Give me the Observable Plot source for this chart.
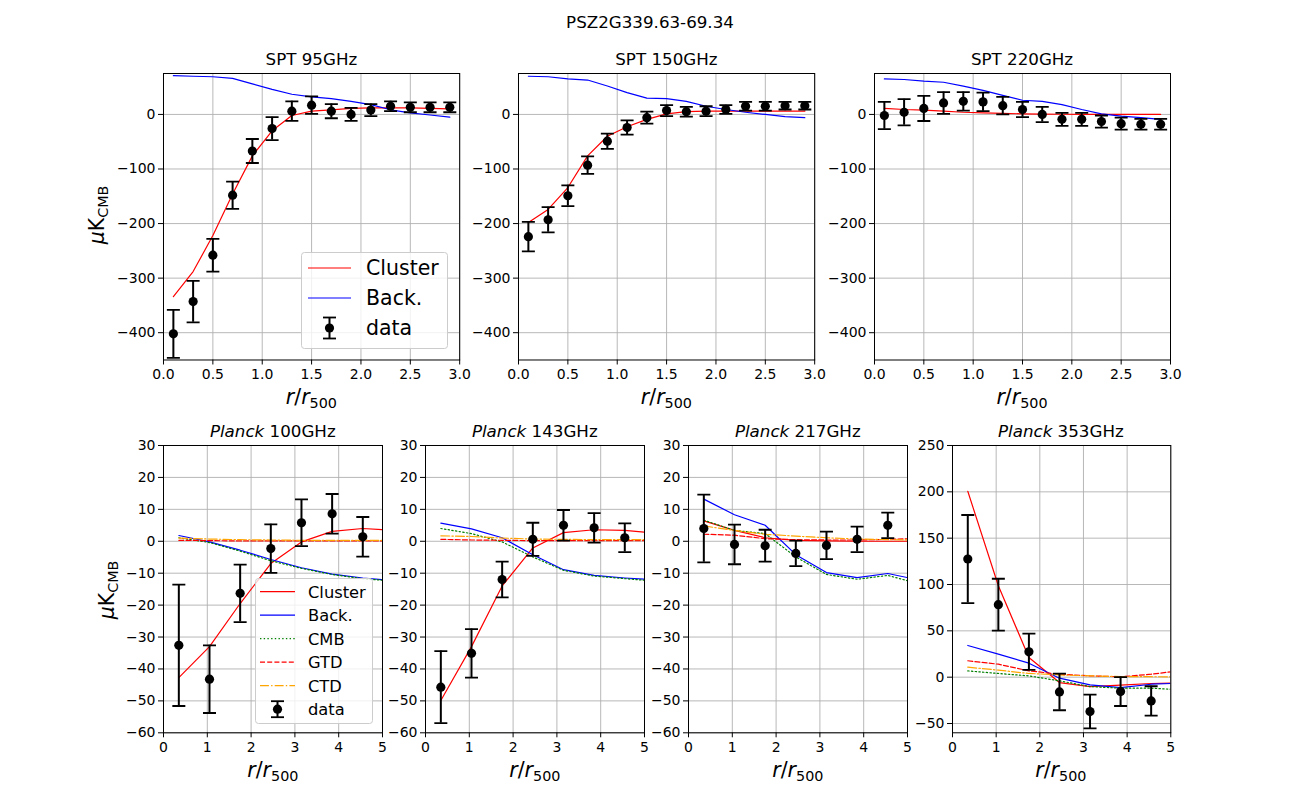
<!DOCTYPE html>
<html><head><meta charset="utf-8">
<script src="https://cdn.jsdelivr.net/npm/d3@7"></script>
<script src="https://cdn.jsdelivr.net/npm/@observablehq/plot@0.6"></script>
<style>
body{margin:0;background:#fff;}
#fig{position:relative;width:1300px;height:800px;font-family:"DejaVu Sans",sans-serif;color:#000;overflow:hidden;background:#fff}
.txt{position:absolute;transform:translate(-50%,-50%);white-space:nowrap;line-height:1}
.abs{position:absolute}
sub{font-size:70%;vertical-align:-0.3em;line-height:0}
</style></head><body><div id="fig"></div>
<script>
// ---------- SPT data ----------
const sptR = [0.1,0.3,0.5,0.7,0.9,1.1,1.3,1.5,1.7,1.9,2.1,2.3,2.5,2.7,2.9];
const sptXTicks = [0,0.5,1,1.5,2,2.5,3];
const sptYTicks = [-400,-300,-200,-100,0];

const spt95Data    = [-402,-343,-258,-148,-67,-26,6,17,6,0,8,15,13,13,13];
const spt95Err     = [44,38,30,25,22,21,18,16,13,12,11,9,9,9,9];
const spt95Cluster = [-334,-288,-222,-146,-76,-30,-2,6,8.5,11,12,12,12,11,10];
const spt95Back    = [71,70,69,66,56,46,37,32,29,24,18,8.5,3,-1,-5];

const spt150Data    = [-224,-193,-149,-93,-49,-24,-6,7,5,6,9,15,15,16,16];
const spt150Err     = [27,23,19,16,14,13,11,10,9,9,8,8,8,7,7];
const spt150Cluster = [-198,-174,-134,-76,-40,-22.5,-9,1,5,6,6,6,6,6,6];
const spt150Back    = [70,69,65,63,52,40,30,29,24,15,9,4,0,-4,-6];

const spt220Data    = [-2,4,11,21,24,23,16,9,0,-9,-9,-13,-17,-18,-18];
const spt220Err     = [25,24,23,20,17,17,16,14,14,12,12,11,11,10,10];
const spt220Cluster = [11,9,8,6,4,3,2,1,0.5,0.3,0.2,0.1,0,0,0];
const spt220Back    = [65,64,61,59,52,44,35,26,24,18,9,1,-3,-6,-9];

// ---------- Planck data ----------
const planckR = [0.35,1.05,1.75,2.45,3.15,3.85,4.55];
const planckModelR = [0.35,1.05,1.75,2.45,3.15,3.85,4.55,5.25];
const planckXTicks = [0,1,2,3,4,5];
const planckYTicks = [-60,-50,-40,-30,-20,-10,0,10,20,30];
const p353YTicks = [-50,0,50,100,150,200,250];

const p100Data    = [-32.6,-43.2,-16.3,-2.3,5.8,8.6,1.4];
const p100Err     = [19,10.6,9,7.6,7.3,6.2,6.2];
const p100Cluster = [-42.7,-33,-19.5,-7,-0.2,3.1,4.0,3.4];
const p100Back    = [1.8,-0.2,-2.8,-5.7,-8.3,-10.3,-11.5,-12.3];
const p100CMB     = [1.1,-0.4,-3.1,-6.1,-8.5,-10.4,-11.7,-12.5];
const p100GTD     = [0.3,0.2,0.1,0.1,0.1,0.1,0.1,0.1];
const p100CTD     = [1.0,0.7,0.5,0.4,0.3,0.3,0.3,0.3];

const p143Data    = [-45.7,-35.1,-12.0,0.6,5.0,4.2,1.1];
const p143Err     = [11.3,7.6,5.6,5.2,4.8,4.6,4.5];
const p143Cluster = [-49.9,-33,-14,-2.1,2.7,3.6,3.4,2.5];
const p143Back    = [5.7,3.9,1.1,-4.2,-8.9,-10.7,-11.5,-12.1];
const p143CMB     = [4.0,2.4,-0.2,-4.9,-9.1,-10.9,-11.7,-12.5];
const p143GTD     = [0.6,0.4,0.3,0.2,0.2,0.2,0.2,0.2];
const p143CTD     = [1.7,1.5,1.0,0.7,0.6,0.5,0.5,0.5];

const p217Data    = [4.0,-1.0,-1.4,-3.8,-1.3,0.6,5.0];
const p217Err     = [10.6,6.2,5.0,4.0,4.3,4.0,4.0];
const p217Cluster = [6.4,3.4,1.1,0.3,0.1,0,0,0];
const p217Back    = [13.2,8.3,5.0,-4.2,-9.8,-11.4,-10.1,-12.1];
const p217CMB     = [6.6,3.4,2.4,-4.9,-10.4,-11.9,-10.7,-13.3];
const p217GTD     = [2.2,1.9,0.8,0.5,0.4,0.4,0.6,0.9];
const p217CTD     = [4.8,3.4,2.2,1.6,1.1,0.7,0.5,0.35];

const p353Data    = [127.5,78.2,27.4,-15.9,-37.1,-15.5,-25.6];
const p353Err     = [47.5,28,19.5,19.8,18.2,15.6,15.8];
const p353Cluster = [200.6,98.7,21.3,-5.8,-10.1,-8.6,-6.8,-6.3];
const p353Back    = [34.2,24.9,15.1,-1.1,-8.3,-11.2,-7.6,-6.4];
const p353CMB     = [6.8,4.0,1.4,-4.0,-10.1,-11.9,-11.9,-13.6];
const p353GTD     = [17.7,14,6.8,3.2,1.4,0.4,3.2,7.2];
const p353CTD     = [10.8,7.6,4.0,2.5,1.4,0.7,0.5,0.3];

// ---------- styles ----------
const STY = {
  Cluster: {color:"red", dash:null},
  Back:    {color:"blue", dash:null},
  CMB:     {color:"green", dash:"1.4,2.3"},
  GTD:     {color:"red", dash:"5,2.2"},
  CTD:     {color:"orange", dash:"8.9,2.2,1.4,2.2"}
};
const capSymbol = {draw(ctx, size){ const h = Math.sqrt(size/Math.PI); ctx.moveTo(-h,0); ctx.lineTo(h,0); }};

const fig = document.getElementById("fig");

function addText(html, x, y, size, extra="") {
  const d = document.createElement("div");
  d.className = "txt";
  d.style.left = x+"px"; d.style.top = y+"px"; d.style.fontSize = size+"px";
  d.style.cssText += extra;
  d.innerHTML = html;
  fig.appendChild(d);
}

function panel(o) {
  const mL=60, mR=14, mT=10, mB=32;
  const W = o.fx1-o.fx0+mL+mR, H = o.fy1-o.fy0+mT+mB;
  const pts = o.R.map((r,i)=>({r, v:o.data[i], lo:o.data[i]-o.err[i], hi:o.data[i]+o.err[i]}));
  const marks = [
    Plot.gridX({ticks:o.xTicks, stroke:"#b0b0b0", strokeOpacity:1, strokeWidth:0.9}),
    Plot.gridY({ticks:o.yTicks, stroke:"#b0b0b0", strokeOpacity:1, strokeWidth:0.9}),
  ];
  for (const m of o.models) {
    const st = STY[m.name];
    marks.push(Plot.line(o.modelR.map((r,i)=>({r, v:m.values[i]})),
      {x:"r", y:"v", stroke:st.color, strokeWidth:1.2, strokeDasharray:st.dash, clip:true}));
  }
  marks.push(
    Plot.ruleX(pts, {x:"r", y1:"lo", y2:"hi", stroke:"black", strokeWidth:2, clip:true}),
    Plot.dot(pts, {x:"r", y:"lo", symbol:capSymbol, r:6.5, stroke:"black", strokeWidth:1.8, fill:"none", clip:true}),
    Plot.dot(pts, {x:"r", y:"hi", symbol:capSymbol, r:6.5, stroke:"black", strokeWidth:1.8, fill:"none", clip:true}),
    Plot.dot(pts, {x:"r", y:"v", r:4.6, fill:"black", stroke:null}),
    Plot.frame({stroke:"black", strokeWidth:1}),
    Plot.axisX({ticks:o.xTicks, tickFormat:o.xFmt, tickSize:5, tickPadding:4, label:null, fontSize:14}),
    Plot.axisY({ticks:o.yTicks, tickSize:5, tickPadding:3, label:null, fontSize:14})
  );
  const svg = Plot.plot({
    width:W, height:H, marginLeft:mL, marginRight:mR, marginTop:mT, marginBottom:mB,
    x:{domain:o.xDomain, label:null},
    y:{domain:o.yDomain, label:null},
    style:{fontFamily:"DejaVu Sans, sans-serif", fontSize:"14px", color:"black", background:"transparent", overflow:"visible"},
    marks
  });
  const wrap = document.createElement("div");
  wrap.className = "abs";
  wrap.style.left = (o.fx0-mL)+"px"; wrap.style.top = (o.fy0-mT)+"px";
  wrap.style.width = W+"px"; wrap.style.height = H+"px";
  wrap.appendChild(svg);
  fig.appendChild(wrap);
  addText(o.title, (o.fx0+o.fx1)/2, o.fy0-14, 16.7);
  addText('<i>r</i>/<i>r</i><sub>500</sub>', (o.fx0+o.fx1)/2, o.fy1+38, 20.5);
}

function legend(o) {
  const svg = d3.create("svg").attr("width", o.w).attr("height", o.h)
    .style("position","absolute").style("left",o.x+"px").style("top",o.y+"px").style("overflow","visible");
  svg.append("rect").attr("x",0.5).attr("y",0.5).attr("width",o.w-1).attr("height",o.h-1)
    .attr("rx",3).attr("fill","white").attr("fill-opacity",0.8).attr("stroke","#cccccc");
  o.items.forEach((name,i)=>{
    const y = o.row0 + i*o.step;
    if (name === "data") {
      const cx = (o.hx0+o.hx1)/2, hh = o.capH;
      svg.append("line").attr("x1",cx).attr("x2",cx).attr("y1",y-hh).attr("y2",y+hh).attr("stroke","black").attr("stroke-width",2);
      for (const yy of [y-hh, y+hh]) svg.append("line").attr("x1",cx-6.5).attr("x2",cx+6.5).attr("y1",yy).attr("y2",yy).attr("stroke","black").attr("stroke-width",1.8);
      svg.append("circle").attr("cx",cx).attr("cy",y).attr("r",4.6).attr("fill","black");
    } else {
      const st = STY[name];
      svg.append("line").attr("x1",o.hx0).attr("x2",o.hx1).attr("y1",y).attr("y2",y)
        .attr("stroke",st.color).attr("stroke-width",1.2).attr("stroke-dasharray",st.dash);
    }
    svg.append("text").attr("x",o.tx).attr("y",y).attr("dy","0.36em")
      .attr("font-family","DejaVu Sans, sans-serif").attr("font-size",o.fs).text(o.labels[i]);
  });
  fig.appendChild(svg.node());
}

// suptitle
addText("PSZ2G339.63-69.34", 650, 22, 16.7);

// SPT panels
const sptCommon = {fy0:72.5, fy1:359, xDomain:[0,3], xTicks:sptXTicks, xFmt:d3.format(".1f"),
  yDomain:[-450,75], yTicks:sptYTicks, R:sptR, modelR:sptR};
panel({...sptCommon, fx0:163.3, fx1:459.5, title:"SPT 95GHz", data:spt95Data, err:spt95Err,
  models:[{name:"Cluster", values:spt95Cluster},{name:"Back", values:spt95Back}]});
panel({...sptCommon, fx0:518.3, fx1:814.5, title:"SPT 150GHz", data:spt150Data, err:spt150Err,
  models:[{name:"Cluster", values:spt150Cluster},{name:"Back", values:spt150Back}]});
panel({...sptCommon, fx0:874, fx1:1170, title:"SPT 220GHz", data:spt220Data, err:spt220Err,
  models:[{name:"Cluster", values:spt220Cluster},{name:"Back", values:spt220Back}]});

// Planck panels
const plCommon = {fy0:445, fy1:732.3, xDomain:[0,5], xTicks:planckXTicks, xFmt:d3.format("d"),
  yDomain:[-60,30], yTicks:planckYTicks, R:planckR, modelR:planckModelR};
const mods = (c,b,m,g,t)=>[{name:"Cluster",values:c},{name:"Back",values:b},{name:"CMB",values:m},{name:"GTD",values:g},{name:"CTD",values:t}];
panel({...plCommon, fx0:163.3, fx1:382.3, title:"<i>Planck</i> 100GHz", data:p100Data, err:p100Err,
  models:mods(p100Cluster,p100Back,p100CMB,p100GTD,p100CTD)});
panel({...plCommon, fx0:425.3, fx1:644.3, title:"<i>Planck</i> 143GHz", data:p143Data, err:p143Err,
  models:mods(p143Cluster,p143Back,p143CMB,p143GTD,p143CTD)});
panel({...plCommon, fx0:688.3, fx1:907.3, title:"<i>Planck</i> 217GHz", data:p217Data, err:p217Err,
  models:mods(p217Cluster,p217Back,p217CMB,p217GTD,p217CTD)});
panel({...plCommon, fx0:951.7, fx1:1170, yDomain:[-60,250], yTicks:p353YTicks, title:"<i>Planck</i> 353GHz", data:p353Data, err:p353Err,
  models:mods(p353Cluster,p353Back,p353CMB,p353GTD,p353CTD)});

// y labels
const yl = '<i>μ</i>K<sub>CMB</sub>';
addText(yl, 97, 215, 20.5, "transform:translate(-50%,-50%) rotate(-90deg);");
addText(yl, 107, 590, 20.5, "transform:translate(-50%,-50%) rotate(-90deg);");

// legends
legend({x:301, y:252, w:147, h:97, fs:20.5, row0:16, step:30, hx0:7, hx1:50, tx:65, capH:10.5,
  items:["Cluster","Back","data"], labels:["Cluster","Back.","data"]});
legend({x:255, y:578, w:118, h:146, fs:16.3, row0:13.7, step:23.5, hx0:5, hx1:40, tx:53, capH:8,
  items:["Cluster","Back","CMB","GTD","CTD","data"], labels:["Cluster","Back.","CMB","GTD","CTD","data"]});
</script></body></html>
